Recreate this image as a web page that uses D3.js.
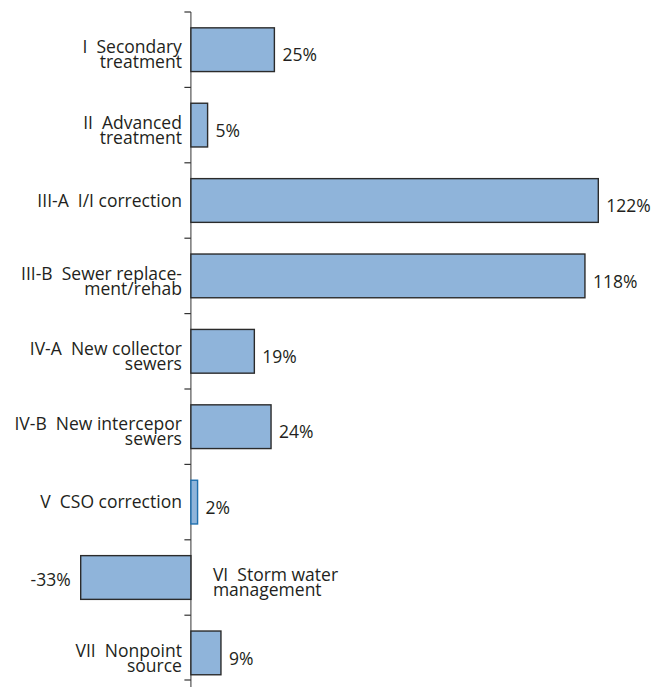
<html>
<head>
<meta charset="utf-8">
<script src="https://d3js.org/d3.v7.min.js"></script>
<style>
body { margin: 0; background: #fff; }
text { font-family: "Open Sans", "Noto Sans", sans-serif; fill: #231f20; white-space: pre; }
</style>
</head>
<body>
<svg width="657" height="687"></svg>
<script>
// category codes, label lines and percentage change
var codes = ["I", "II", "III-A", "III-B", "IV-A", "IV-B", "V", "VI", "VII"];
var labelLines = [
  ["I  Secondary", "treatment"],
  ["II  Advanced", "treatment"],
  ["III-A  I/I correction"],
  ["III-B  Sewer replace-", "ment/rehab"],
  ["IV-A  New collector", "sewers"],
  ["IV-B  New intercepor", "sewers"],
  ["V  CSO correction"],
  ["VI  Storm water", "management"],
  ["VII  Nonpoint", "source"]
];
var values = [25, 5, 122, 118, 19, 24, 2, -33, 9];

var svg = d3.select("svg");
var W = 657, H = 687;
var fs = 17.5;

var x = d3.scaleLinear().domain([-33, 122]).range([80.7, 598.3]);
var y = d3.scaleBand().domain(codes).range([12, 690.6]).paddingInner(0.42).paddingOuter(0.21);
var step = y.step();
var x0 = x(0);

// axis line
svg.append("line")
  .attr("x1", x0).attr("x2", x0)
  .attr("y1", 12).attr("y2", H)
  .attr("stroke", "#555").attr("stroke-width", 1.2);

// ticks at band boundaries
var tickY = codes.map(function(c, i) { return 12 + i * step; });
tickY.push(680);
svg.selectAll(".tick").data(tickY).enter().append("line")
  .attr("x1", x0 - 6.5).attr("x2", x0)
  .attr("y1", function(d) { return d; }).attr("y2", function(d) { return d; })
  .attr("stroke", "#333").attr("stroke-width", 1.2);

// bars
svg.selectAll(".bar").data(values).enter().append("rect")
  .attr("x", function(d) { return Math.min(x(d), x0); })
  .attr("width", function(d) { return Math.abs(x(d) - x0); })
  .attr("y", function(d, i) { return y(codes[i]); })
  .attr("height", y.bandwidth())
  .attr("fill", "#8fb4da")
  .attr("stroke", function(d, i) { return codes[i] === "V" ? "#1f6fae" : "#2b2b2b"; })
  .attr("stroke-width", 1.4);

// category labels
labelLines.forEach(function(lines, i) {
  var v = values[i];
  var cy = y(codes[i]) + y.bandwidth() / 2;
  var g = svg.append("text")
    .attr("font-size", fs)
    .attr("text-anchor", v < 0 ? "start" : "end");
  var lx = v < 0 ? x0 + 22 : x0 - 9;
  var off = lines.length === 1 ? 0 : 5;
  lines.forEach(function(l, j) {
    g.append("tspan")
      .attr("x", lx)
      .attr("y", cy + off + (j - (lines.length - 1) / 2) * 15)
      .attr("dy", "0.35em")
      .text(l);
  });
});

// value labels
svg.selectAll(".val").data(values).enter().append("text")
  .attr("font-size", fs)
  .attr("text-anchor", function(d) { return d < 0 ? "end" : "start"; })
  .attr("x", function(d) { return d < 0 ? x(d) - 10 : x(d) + 8; })
  .attr("y", function(d, i) { return y(codes[i]) + y.bandwidth() / 2 + (d < 0 ? 2 : 5.5); })
  .attr("dy", "0.35em")
  .text(function(d) { return d + "%"; });
</script>
</body>
</html>
